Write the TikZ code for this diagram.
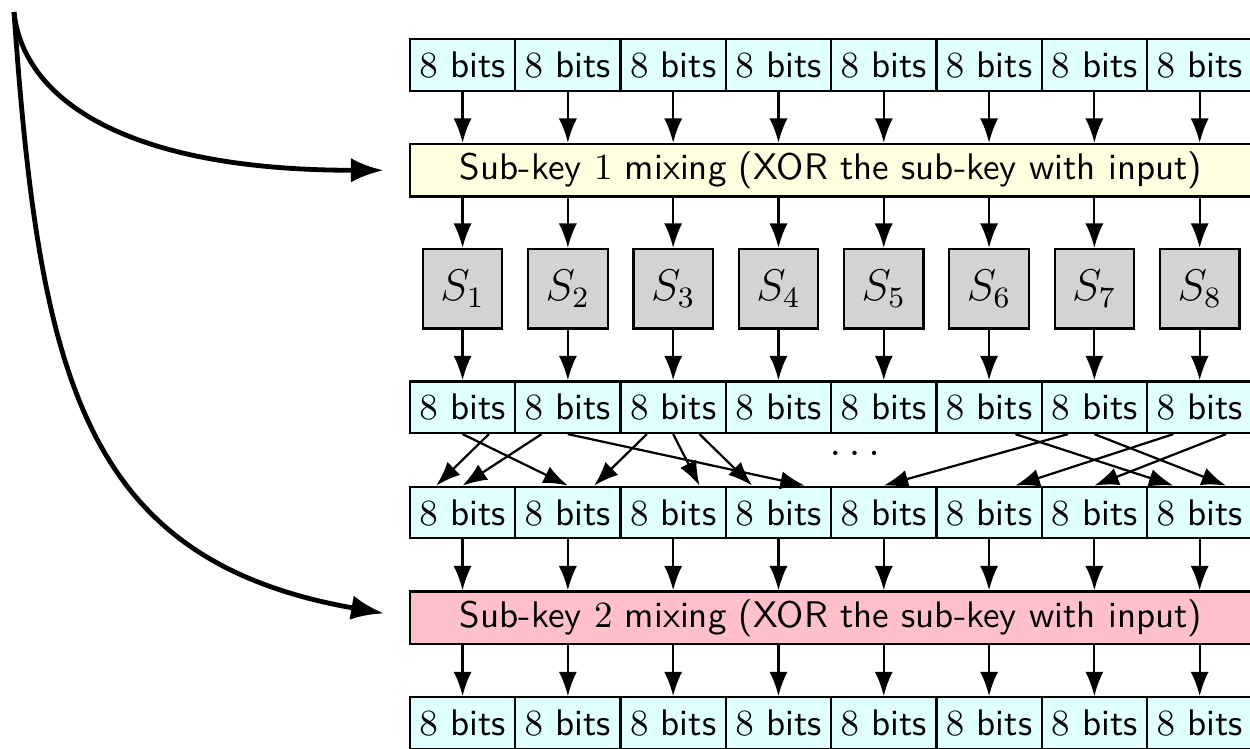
\documentclass[tikz,border=0pt]{standalone}
\usepackage{amsmath}
\usepackage{xcolor}
\usepackage{tikz}
\usetikzlibrary{arrows.meta,positioning,calc}

\definecolor{bytecyan}{HTML}{E0FFFF}
\definecolor{mixyellow}{HTML}{FFFFE0}
\definecolor{mixpink}{HTML}{FFC0CB}
\definecolor{sgray}{HTML}{D3D3D3}
\tikzset{
  bytebox/.style={draw, semithick, fill=bytecyan, minimum width=1cm, minimum height=0.49cm, inner sep=0pt},
  mixbox/.style={draw, semithick, minimum width=8cm, minimum height=0.5cm, inner sep=0pt},
  sbox/.style={draw, semithick, fill=sgray, minimum size=0.755cm, inner sep=0pt, font=\large},
  wire/.style={semithick, -{Latex[length=6.6pt,width=4.9pt]}},
  keyline/.style={line width=1.3pt, -{Latex}},
}

\begin{document}
\begin{tikzpicture}[font=\sffamily]
\useasboundingbox (-4.393,-6.496) rectangle (7.478,0.617);
% Mixing stages
\node[mixbox, fill=mixyellow] (mixA) at (3.5,-1) {Sub-key $1$ mixing (XOR the sub-key with input)};
\node[mixbox, fill=mixpink] (mixB) at (3.5,-5.25) {Sub-key $2$ mixing (XOR the sub-key with input)};
% Byte rows and S-boxes
\foreach \i [count=\k] in {0,...,7} {
  \node[bytebox] (in\i) at (\i,0) {$8$ bits};
  \node[sbox] (s\i) at (\i,-2.125) {$S_{\k}$};
  \node[bytebox] (sb\i) at (\i,-3.25) {$8$ bits};
  \node[bytebox] (pb\i) at (\i,-4.25) {$8$ bits};
  \node[bytebox] (out\i) at (\i,-6.25) {$8$ bits};
  \draw[wire] (in\i) -- (mixA.north -| in\i);
  \draw[wire] (mixA.south -| s\i) -- (s\i);
  \draw[wire] (s\i) -- (sb\i);
  \draw[wire] (pb\i) -- (mixB.north -| pb\i);
  \draw[wire] (mixB.south -| out\i) -- (out\i);
}
% Permutation
\foreach \a/\p/\b/\q in {0/0.25/0/-0.25, 0/0/1/0, 1/-0.25/0/0, 1/0/3/0.25,
    2/-0.25/1/0.25, 2/0/2/0.25, 2/0.25/3/-0.25, 6/-0.25/4/0,
    5/0.25/7/-0.25, 7/-0.25/5/0.25, 6/0/7/0.25, 7/0.25/6/0}
  \draw[wire] ($(sb\a.south)+(\p,0)$) -- ($(pb\b.north)+(\q,0)$);
\node[anchor=base, inner sep=0pt, font=\large] (dots) at (3.76,-3.713) {$\dots$};
% Key schedule
\coordinate (key) at (-4.26,0.503);
\draw[keyline, shorten >=0.24cm] (key) to[out=-84, in=180, out looseness=0.52, in looseness=1.72] (mixA.west);
\draw[keyline, shorten >=0.24cm] (key) to[out=-86, in=170, out looseness=1.3, in looseness=1.17] (mixB.west);
\end{tikzpicture}
\end{document}
